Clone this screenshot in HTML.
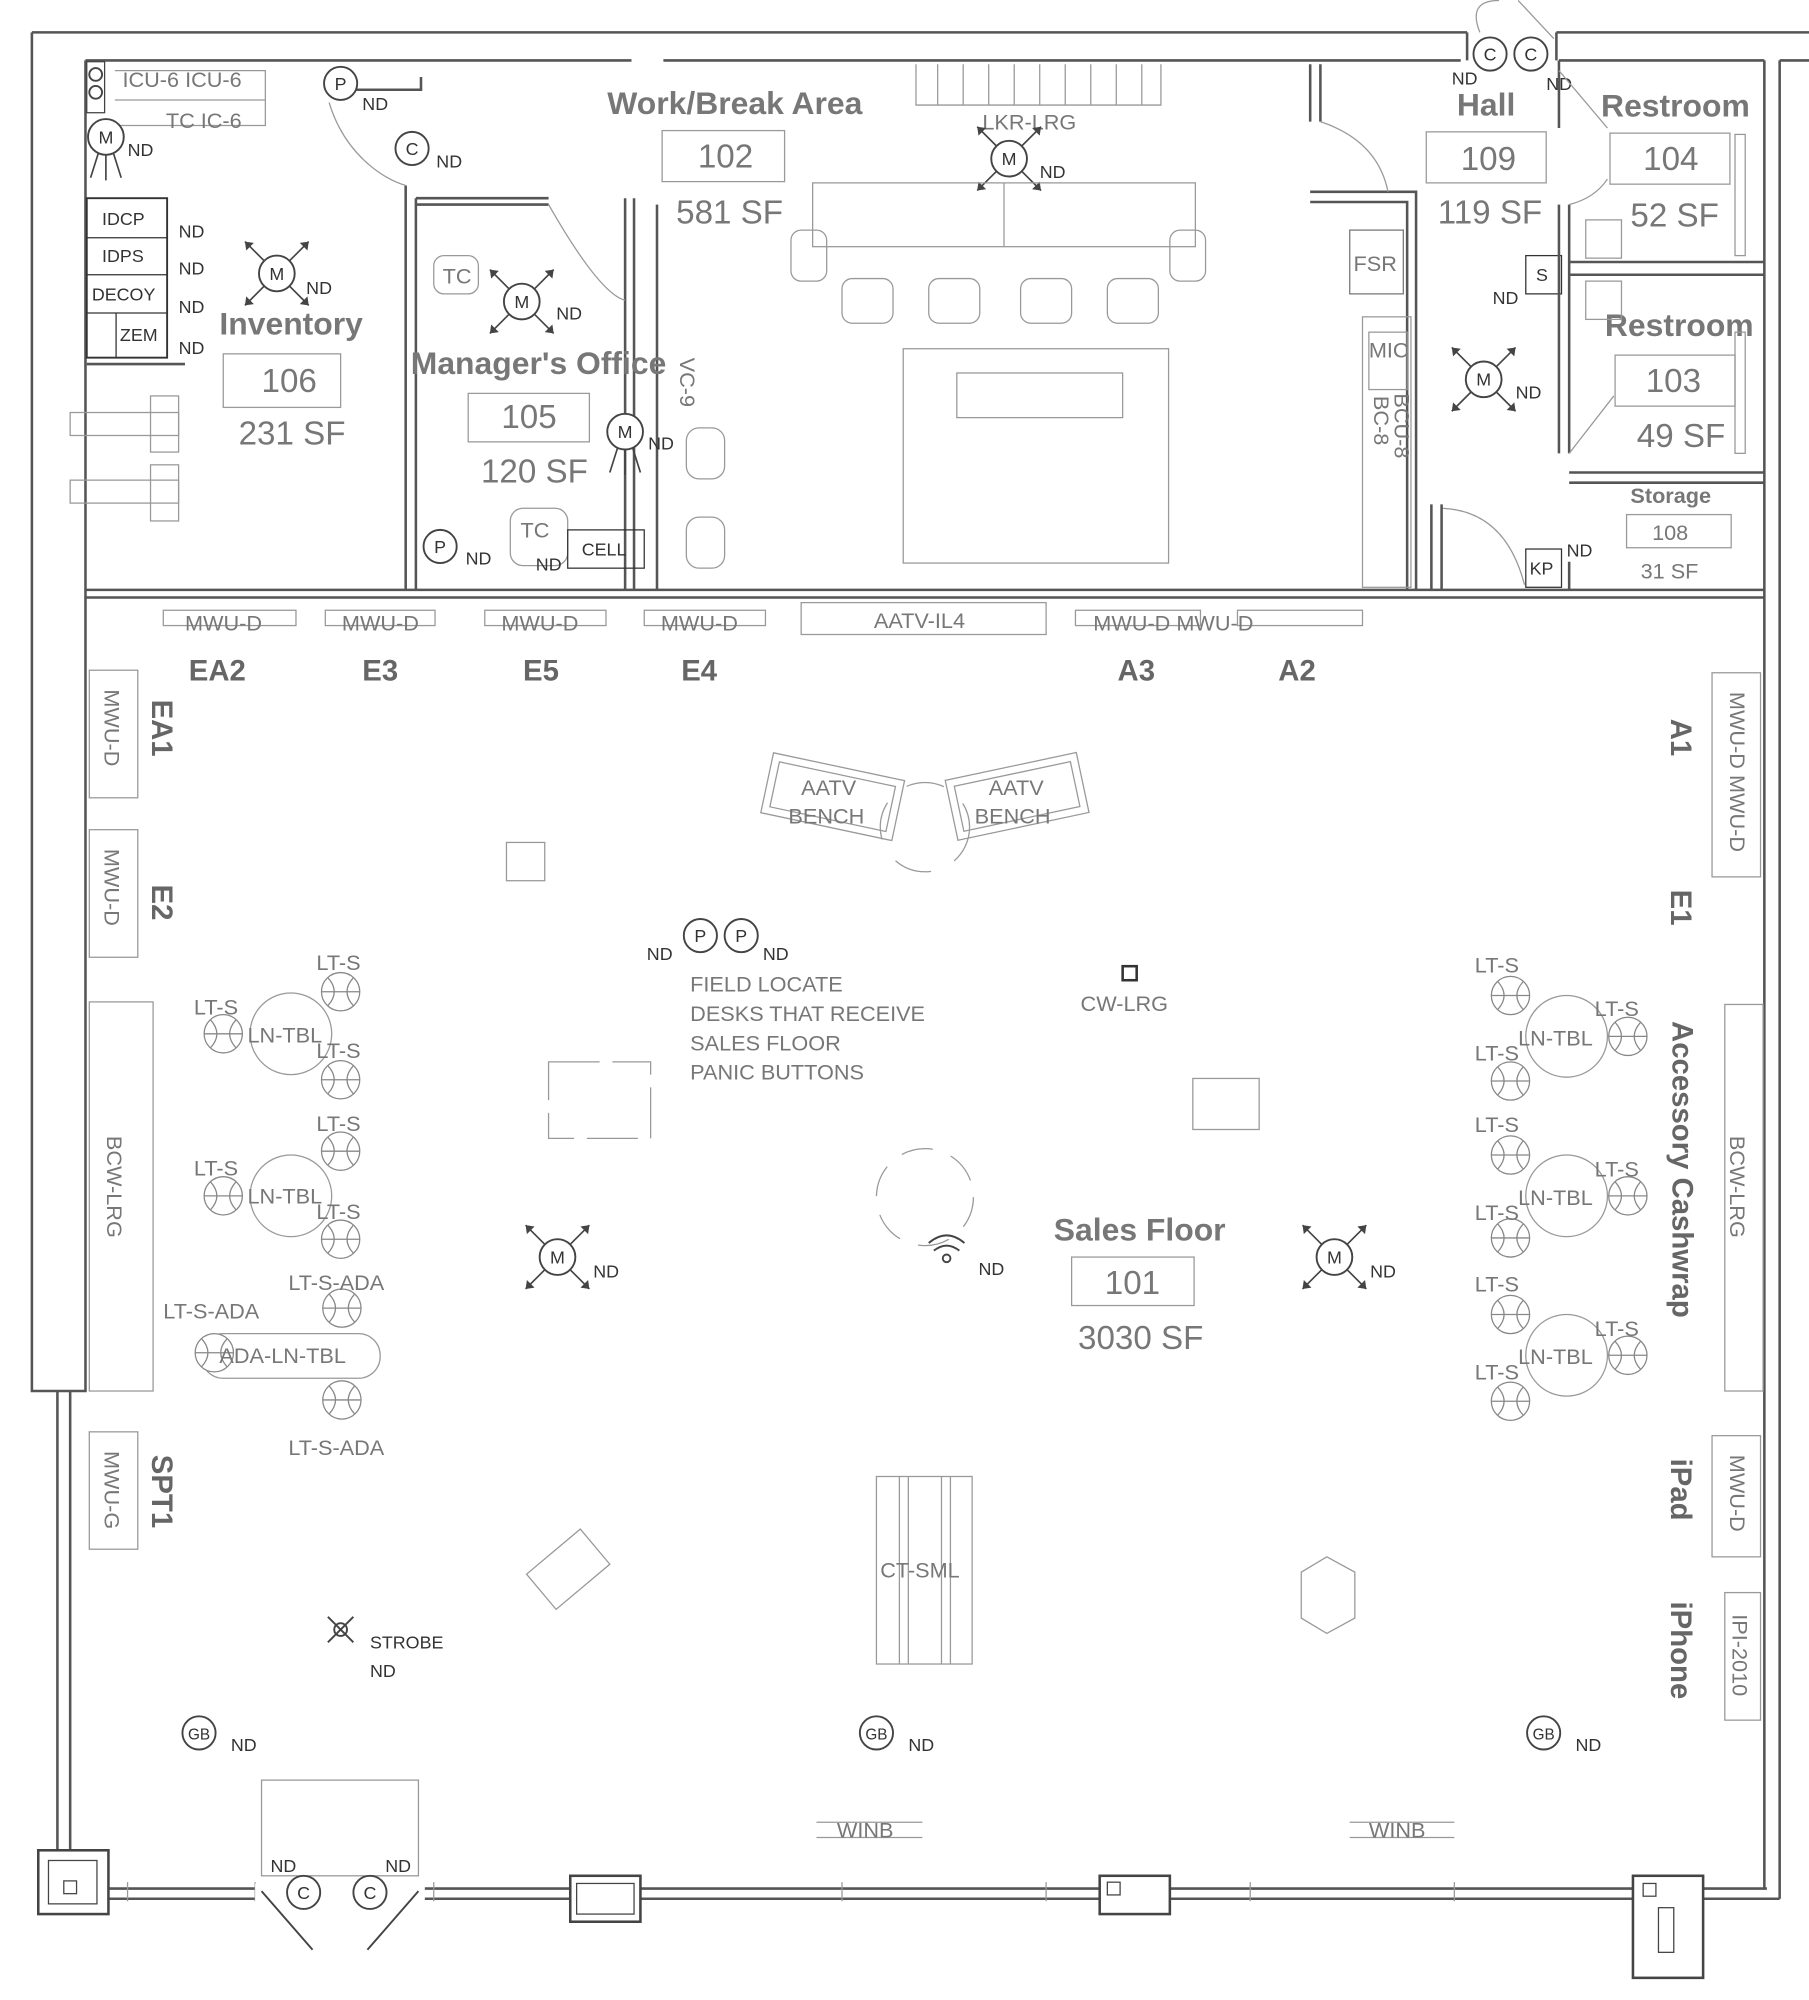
<!DOCTYPE html>
<html><head><meta charset="utf-8"><style>
html,body{margin:0;padding:0;background:#fff}
svg{display:block}
text{font-family:"Liberation Sans",sans-serif}
.t{fill:#777;font-size:17px}
.s{fill:#333;font-size:14px}
.rn{fill:#777;font-size:25px;font-weight:bold}
.nm{fill:#777;font-size:26px}
.w{fill:none;stroke:#555;stroke-width:2}
.l{fill:none;stroke:#999;stroke-width:1}
.d{fill:none;stroke:#444;stroke-width:1.5}
</style></head><body>
<svg width="1809" height="2000" viewBox="0 0 1418 1567" xmlns="http://www.w3.org/2000/svg">
<defs>
<g id="M"><circle r="14" fill="#fff" stroke="#444" stroke-width="1.5"/><text y="5" text-anchor="middle" font-size="14" fill="#333">M</text>
<path d="M10,-10 L25,-25 M-10,-10 L-25,-25 M10,10 L25,25 M-10,10 L-25,25" stroke="#444" stroke-width="1.3"/>
<path d="M25,-25 l-7,1 l6,6z M-25,-25 l7,1 l-6,6z M25,25 l-7,-1 l6,-6z M-25,25 l7,-1 l-6,-6z" fill="#444"/></g>
<g id="MD"><circle r="14" fill="#fff" stroke="#444" stroke-width="1.5"/><text y="5" text-anchor="middle" font-size="14" fill="#333">M</text>
<path d="M-6,13 L-12,32 M0,14 L0,34 M6,13 L12,32" stroke="#444" stroke-width="1.3"/></g>
<g id="C"><circle r="13" fill="#fff" stroke="#444" stroke-width="1.5"/><text y="5" text-anchor="middle" font-size="14" fill="#333">C</text></g>
<g id="P"><circle r="13" fill="#fff" stroke="#444" stroke-width="1.5"/><text y="5" text-anchor="middle" font-size="14" fill="#333">P</text></g>
<g id="GB"><circle r="13" fill="#fff" stroke="#444" stroke-width="1.5"/><text y="5" text-anchor="middle" font-size="12" fill="#333">GB</text></g>
<g id="LT"><circle r="15" fill="#fff" stroke="#888"/><path d="M-10,-11 Q0,0 -10,11 M10,-11 Q0,0 10,11 M-15,0 L15,0" stroke="#888" fill="none"/></g>
</defs>

<path class="w" d="M25,25 H1150 M1220,25 H1418 M67,47 H495 M520,47 H1145 M1222,47 H1383 M1395,47 H1418"/>
<path class="w" d="M25,25 V1090 H67 V47 M25,1090 M45,1090 V1485 M55,1090 V1480"/>
<path class="w" d="M55,1480 H1385 M45,1488 H1395 M1383,47 V1480 M1395,47 V1488"/>
<path class="l" d="M100,1475 V1490 M200,1475 V1490 M340,1475 V1490 M500,1475 V1490 M660,1475 V1490 M820,1475 V1490 M980,1475 V1490 M1140,1475 V1490 M1300,1475 V1490"/>
<rect x="30" y="1450" width="55" height="50" fill="#fff" stroke="#444" stroke-width="2"/><rect x="38" y="1458" width="38" height="34" fill="none" stroke="#444"/><rect x="50" y="1474" width="10" height="10" fill="none" stroke="#444"/>
<rect x="447" y="1470" width="55" height="36" fill="#fff" stroke="#444" stroke-width="2"/><rect x="452" y="1476" width="45" height="24" fill="none" stroke="#444"/>
<rect x="862" y="1470" width="55" height="30" fill="#fff" stroke="#444" stroke-width="2"/><rect x="868" y="1475" width="10" height="10" fill="none" stroke="#444"/>
<rect x="1280" y="1470" width="55" height="80" fill="#fff" stroke="#444" stroke-width="2"/><rect x="1300" y="1495" width="12" height="35" fill="none" stroke="#444"/><rect x="1288" y="1476" width="10" height="10" fill="none" stroke="#444"/>
<rect x="205" y="1395" width="123" height="75" class="l"/>
<rect x="200" y="1476" width="133" height="14" fill="#fff"/>
<path class="d" d="M205,1482 L245,1528 M328,1482 L288,1528"/>
<use href="#C" x="238" y="1483"/><use href="#C" x="290" y="1483"/>
<text class="s" x="212" y="1467">ND</text><text class="s" x="302" y="1467">ND</text>

<path class="w" d="M67,462 H1383 M67,468 H1383"/>
<path class="w" d="M318,145 V462 M326,155 V462 M326,155 H430 M326,160 H430 M490,155 V462 M497,155 V462 M515,160 V462"/>
<path class="l" d="M318,145 C300,140 270,120 258,80 M430,160 Q470,230 490,235"/>
<path class="w" d="M270,70 H330 V60"/>
<rect x="68" y="155" width="63" height="125" fill="none" stroke="#333" stroke-width="1.5"/>
<path stroke="#333" d="M68,186 H131 M68,215 H131 M68,245 H131 M91,245 V280" fill="none"/>
<path class="w" d="M68,285 H145"/>
<text class="s" x="80" y="176">IDCP</text><text class="s" x="80" y="205">IDPS</text><text class="s" x="72" y="235">DECOY</text><text class="s" x="94" y="267">ZEM</text>
<text class="s" x="140" y="186">ND</text><text class="s" x="140" y="215">ND</text><text class="s" x="140" y="245">ND</text><text class="s" x="140" y="277">ND</text>
<rect x="68" y="48" width="14" height="40" fill="none" stroke="#444"/><circle cx="75" cy="58" r="5" class="d"/><circle cx="75" cy="72" r="5" class="d"/>
<path class="l" d="M90,55 H208 V98 H90 M90,78 H208"/>
<text class="t" x="96" y="68" font-size="16">ICU-6 ICU-6</text><text class="t" x="130" y="100" font-size="16">TC IC-6</text>
<use href="#MD" x="83" y="107"/><text class="s" x="100" y="122">ND</text>
<use href="#M" x="217" y="214"/><text class="s" x="240" y="230">ND</text>
<text class="rn" x="172" y="262">Inventory</text>
<rect x="175" y="277" width="92" height="42" class="l"/><text class="nm" x="205" y="307">106</text>
<text class="nm" x="187" y="348">231 SF</text>
<g class="l"><rect x="55" y="323" width="85" height="18"/><rect x="118" y="310" width="22" height="44"/><rect x="55" y="376" width="85" height="18"/><rect x="118" y="364" width="22" height="44"/></g>
<use href="#P" x="267" y="65"/><text class="s" x="284" y="86">ND</text>
<use href="#C" x="323" y="116"/><text class="s" x="342" y="131">ND</text>

<rect x="340" y="200" width="35" height="30" rx="8" class="l"/><text class="t" x="347" y="222">TC</text>
<use href="#M" x="409" y="236"/><text class="s" x="436" y="250">ND</text>
<text class="rn" x="322" y="293">Manager's Office</text>
<rect x="367" y="308" width="95" height="38" class="l"/><text class="nm" x="393" y="335">105</text>
<text class="nm" x="377" y="378">120 SF</text>
<use href="#MD" x="490" y="338"/><text class="s" x="508" y="352">ND</text>
<use href="#P" x="345" y="428"/><text class="s" x="365" y="442">ND</text>
<rect x="400" y="398" width="45" height="45" rx="10" class="l"/><text class="t" x="408" y="421">TC</text>
<text class="s" x="420" y="447">ND</text>
<rect x="445" y="415" width="60" height="30" fill="none" stroke="#333"/><text class="s" x="456" y="435">CELL</text>
<text class="t" x="533" y="280" transform="rotate(90 533 280)" font-size="15">VC-9</text>
<rect x="538" y="335" width="30" height="40" rx="10" class="l"/><rect x="538" y="405" width="30" height="40" rx="10" class="l"/>

<text class="rn" x="476" y="89">Work/Break Area</text>
<rect x="519" y="102" width="96" height="40" class="l"/><text class="nm" x="547" y="131">102</text>
<text class="nm" x="530" y="175">581 SF</text>
<path class="l" d="M718,50 V82 H910 V50 M735,50 V82 M755,50 V82 M775,50 V82 M795,50 V82 M815,50 V82 M835,50 V82 M855,50 V82 M875,50 V82 M895,50 V82"/>
<text class="t" x="770" y="101" font-size="16">LKR-LRG</text>
<use href="#M" x="791" y="124"/><text class="s" x="815" y="139">ND</text>
<rect x="637" y="143" width="300" height="50" class="l"/><path class="l" d="M787,143 V193"/>
<g class="l"><rect x="620" y="180" width="28" height="40" rx="8"/><rect x="917" y="180" width="28" height="40" rx="8"/><rect x="660" y="218" width="40" height="35" rx="8"/><rect x="728" y="218" width="40" height="35" rx="8"/><rect x="800" y="218" width="40" height="35" rx="8"/><rect x="868" y="218" width="40" height="35" rx="8"/></g>
<rect x="708" y="273" width="208" height="168" class="l"/><rect x="750" y="292" width="130" height="35" class="l"/>
<path class="w" d="M1027,50 V95 M1035,50 V95 M1027,150 H1110 V462 M1027,158 H1103 V462"/>
<path class="l" d="M1035,95 Q1080,110 1088,150 M1130,398 Q1180,400 1195,458"/>
<rect x="1058" y="180" width="42" height="50" fill="none" stroke="#777"/><text class="t" x="1061" y="212">FSR</text>
<rect x="1068" y="248" width="38" height="212" class="l"/><rect x="1073" y="260" width="30" height="45" class="l"/><text class="t" x="1073" y="280">MIC</text>
<text class="t" x="1093" y="308" transform="rotate(90 1093 308)" font-size="16">BCU-8</text>
<text class="t" x="1077" y="310" transform="rotate(90 1077 310)" font-size="16">BC-8</text>
<path class="w" d="M1122,395 V462 M1130,395 V462"/>

<path class="w" d="M1150,25 V47 M1220,25 V47"/>
<path class="l" d="M1160,25 Q1150,0 1175,0 M1218,30 L1190,0"/>
<use href="#C" x="1168" y="42"/><use href="#C" x="1200" y="42"/>
<text class="s" x="1138" y="66">ND</text><text class="s" x="1212" y="70">ND</text>
<text class="rn" x="1142" y="90">Hall</text>
<rect x="1118" y="103" width="94" height="40" class="l"/><text class="nm" x="1145" y="133">109</text>
<text class="nm" x="1127" y="175">119 SF</text>
<use href="#M" x="1163" y="297"/><text class="s" x="1188" y="312">ND</text>
<rect x="1196" y="200" width="28" height="30" fill="none" stroke="#333"/><text class="s" x="1204" y="220">S</text>
<text class="s" x="1170" y="238">ND</text>
<rect x="1196" y="430" width="28" height="30" fill="none" stroke="#333"/><text class="s" x="1199" y="450">KP</text>
<text class="s" x="1228" y="436">ND</text>

<path class="w" d="M1222,47 V100 M1222,160 V355 M1230,160 V355 M1230,205 H1383 M1230,215 H1383 M1230,370 H1383 M1230,378 H1383 M1230,440 V462"/>
<path class="l" d="M1222,55 L1260,100 M1230,160 Q1250,155 1260,140 M1230,355 L1265,310"/>
<text class="rn" x="1255" y="91">Restroom</text>
<rect x="1262" y="104" width="94" height="40" class="l"/><text class="nm" x="1288" y="133">104</text>
<text class="nm" x="1278" y="177">52 SF</text>
<text class="rn" x="1258" y="263">Restroom</text>
<rect x="1266" y="278" width="94" height="40" class="l"/><text class="nm" x="1290" y="307">103</text>
<text class="nm" x="1283" y="350">49 SF</text>
<text x="1278" y="394" font-size="17" font-weight="bold" fill="#777">Storage</text>
<rect x="1275" y="403" width="82" height="26" class="l"/><text class="t" x="1295" y="423">108</text>
<text class="t" x="1286" y="453">31 SF</text>
<g class="l"><rect x="1243" y="172" width="28" height="30"/><rect x="1243" y="220" width="28" height="30"/><rect x="1360" y="105" width="8" height="95"/><rect x="1360" y="260" width="8" height="95"/></g>

<g class="l"><rect x="128" y="478" width="104" height="12"/><rect x="255" y="478" width="86" height="12"/><rect x="380" y="478" width="95" height="12"/><rect x="505" y="478" width="95" height="12"/><rect x="628" y="472" width="192" height="25"/><rect x="843" y="478" width="98" height="12"/><rect x="970" y="478" width="98" height="12"/></g>
<g class="t" font-size="16"><text x="145" y="494">MWU-D</text><text x="268" y="494">MWU-D</text><text x="393" y="494">MWU-D</text><text x="518" y="494">MWU-D</text><text x="685" y="492">AATV-IL4</text><text x="857" y="494">MWU-D MWU-D</text></g>
<g fill="#666" font-size="23" font-weight="bold"><text x="148" y="533">EA2</text><text x="284" y="533">E3</text><text x="410" y="533">E5</text><text x="534" y="533">E4</text><text x="876" y="533">A3</text><text x="1002" y="533">A2</text></g>

<g class="l"><rect x="70" y="525" width="38" height="100"/><rect x="70" y="650" width="38" height="100"/><rect x="70" y="785" width="50" height="305"/><rect x="70" y="1122" width="38" height="92"/></g>
<g class="t" font-size="16"><text x="82" y="540" transform="rotate(90 82 540)">MWU-D</text><text x="82" y="665" transform="rotate(90 82 665)">MWU-D</text><text x="84" y="890" transform="rotate(90 84 890)">BCW-LRG</text><text x="82" y="1137" transform="rotate(90 82 1137)">MWU-G</text></g>
<g fill="#666" font-size="23" font-weight="bold"><text x="119" y="548" transform="rotate(90 119 548)">EA1</text><text x="119" y="693" transform="rotate(90 119 693)">E2</text><text x="119" y="1140" transform="rotate(90 119 1140)">SPT1</text></g>

<g class="l"><rect x="1342" y="527" width="38" height="160"/><rect x="1352" y="787" width="30" height="303"/><rect x="1342" y="1125" width="38" height="95"/><rect x="1352" y="1248" width="28" height="100"/></g>
<g class="t" font-size="16"><text x="1356" y="542" transform="rotate(90 1356 542)">MWU-D MWU-D</text><text x="1356" y="890" transform="rotate(90 1356 890)">BCW-LRG</text><text x="1356" y="1140" transform="rotate(90 1356 1140)">MWU-D</text><text x="1358" y="1265" transform="rotate(90 1358 1265)">IPI-2010</text></g>
<g fill="#666" font-size="23" font-weight="bold"><text x="1310" y="563" transform="rotate(90 1310 563)">A1</text><text x="1310" y="697" transform="rotate(90 1310 697)">E1</text><text x="1311" y="800" transform="rotate(90 1311 800)">Accessory Cashwrap</text><text x="1310" y="1143" transform="rotate(90 1310 1143)">iPad</text><text x="1310" y="1255" transform="rotate(90 1310 1255)">iPhone</text></g>

<g transform="rotate(12 652 625)"><rect x="600" y="600" width="105" height="48" class="l"/><rect x="606" y="606" width="93" height="36" class="l"/></g>
<g transform="rotate(-12 797 625)"><rect x="745" y="600" width="105" height="48" class="l"/><rect x="751" y="606" width="93" height="36" class="l"/></g>
<text class="t" x="628" y="623">AATV</text><text class="t" x="618" y="645">BENCH</text>
<text class="t" x="775" y="623">AATV</text><text class="t" x="764" y="645">BENCH</text>
<circle cx="725" cy="648" r="35" class="l" stroke-dasharray="30 20"/>
<rect x="397" y="660" width="30" height="30" class="l"/>

<use href="#P" x="549" y="733"/><use href="#P" x="581" y="733"/>
<text class="s" x="507" y="752">ND</text><text class="s" x="598" y="752">ND</text>
<g class="t"><text x="541" y="777">FIELD LOCATE</text><text x="541" y="800">DESKS THAT RECEIVE</text><text x="541" y="823">SALES FLOOR</text><text x="541" y="846">PANIC BUTTONS</text></g>
<rect x="880" y="757" width="11" height="11" fill="none" stroke="#333" stroke-width="2"/>
<text class="t" x="847" y="792">CW-LRG</text>
<rect x="430" y="832" width="80" height="60" class="l" stroke-dasharray="40 10"/>
<rect x="935" y="845" width="52" height="40" class="l"/>

<g class="l"><circle cx="228" cy="810" r="32"/><circle cx="228" cy="937" r="32"/><rect x="158" y="1045" width="140" height="35" rx="17"/></g>
<use href="#LT" x="267" y="777"/><use href="#LT" x="175" y="810"/><use href="#LT" x="267" y="846"/>
<use href="#LT" x="267" y="902"/><use href="#LT" x="175" y="937"/><use href="#LT" x="267" y="971"/>
<use href="#LT" x="268" y="1025"/><use href="#LT" x="268" y="1097"/><use href="#LT" x="168" y="1060"/>
<g class="t"><text x="248" y="760">LT-S</text><text x="152" y="795">LT-S</text><text x="194" y="817">LN-TBL</text><text x="248" y="829">LT-S</text>
<text x="248" y="886">LT-S</text><text x="152" y="921">LT-S</text><text x="194" y="943">LN-TBL</text><text x="248" y="955">LT-S</text>
<text x="226" y="1011">LT-S-ADA</text><text x="128" y="1033">LT-S-ADA</text><text x="172" y="1068">ADA-LN-TBL</text><text x="226" y="1140">LT-S-ADA</text></g>

<g class="l"><circle cx="1228" cy="812" r="32"/><circle cx="1228" cy="937" r="32"/><circle cx="1228" cy="1062" r="32"/></g>
<use href="#LT" x="1184" y="780"/><use href="#LT" x="1276" y="812"/><use href="#LT" x="1184" y="847"/>
<use href="#LT" x="1184" y="905"/><use href="#LT" x="1276" y="937"/><use href="#LT" x="1184" y="970"/>
<use href="#LT" x="1184" y="1030"/><use href="#LT" x="1276" y="1062"/><use href="#LT" x="1184" y="1098"/>
<g class="t"><text x="1156" y="762">LT-S</text><text x="1250" y="796">LT-S</text><text x="1190" y="819">LN-TBL</text><text x="1156" y="831">LT-S</text>
<text x="1156" y="887">LT-S</text><text x="1250" y="922">LT-S</text><text x="1190" y="944">LN-TBL</text><text x="1156" y="956">LT-S</text>
<text x="1156" y="1012">LT-S</text><text x="1250" y="1047">LT-S</text><text x="1190" y="1069">LN-TBL</text><text x="1156" y="1081">LT-S</text></g>

<circle cx="725" cy="938" r="38" class="l" stroke-dasharray="25 15"/>
<path d="M732,980 Q742,972 752,980 M728,974 Q742,962 756,974" class="d"/><circle cx="742" cy="986" r="3" class="d"/>
<text class="s" x="767" y="999">ND</text>
<use href="#M" x="437" y="985"/><text class="s" x="465" y="1001">ND</text>
<use href="#M" x="1046" y="985"/><text class="s" x="1074" y="1001">ND</text>
<text class="rn" x="826" y="972">Sales Floor</text>
<rect x="840" y="985" width="96" height="38" class="l"/><text class="nm" x="866" y="1014">101</text>
<text class="nm" x="845" y="1057">3030 SF</text>

<rect x="687" y="1157" width="75" height="147" class="l"/><path class="l" d="M705,1157 V1304 M712,1157 V1304 M738,1157 V1304 M745,1157 V1304"/>
<text class="t" x="690" y="1236">CT-SML</text>
<g transform="rotate(-40 445 1230)"><rect x="418" y="1212" width="55" height="36" class="l"/></g>
<path class="l" d="M1040,1220 L1062,1232 L1062,1268 L1040,1280 L1020,1268 L1020,1232 Z"/>

<path class="d" d="M257,1267 L277,1287 M277,1267 L257,1287"/><circle cx="267" cy="1277" r="5" class="d"/>
<text class="s" x="290" y="1292">STROBE</text><text class="s" x="290" y="1314">ND</text>
<use href="#GB" x="156" y="1358"/><text class="s" x="181" y="1372">ND</text>
<use href="#GB" x="687" y="1358"/><text class="s" x="712" y="1372">ND</text>
<use href="#GB" x="1210" y="1358"/><text class="s" x="1235" y="1372">ND</text>
<path class="l" d="M640,1428 H723 M640,1440 H723 M1058,1428 H1140 M1058,1440 H1140"/>
<text class="t" x="656" y="1440">WINB</text><text class="t" x="1073" y="1440">WINB</text>
</svg>
</body></html>
